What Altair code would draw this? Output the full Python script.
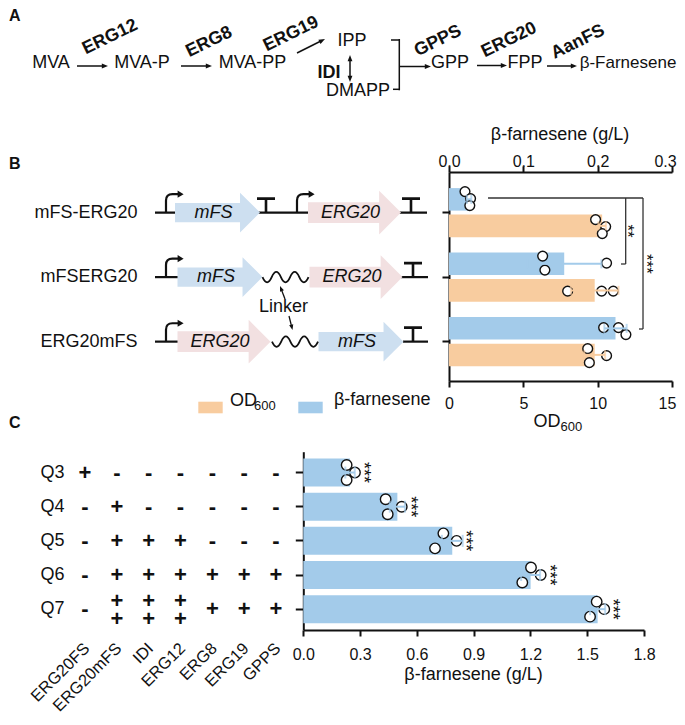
import math
import altair as alt
import pandas as pd

# ================= values =================
# Panel A (pathway)
A_SPECIES = ["MVA", "MVA-P", "MVA-PP", "IPP", "DMAPP", "GPP", "FPP", "β-Farnesene"]
A_ENZYMES = ["ERG12", "ERG8", "ERG19", "GPPS", "ERG20", "AanFS"]
A_ISOMERASE = "IDI"

# Panel B (fusion constructs)
B_CONSTRUCTS = ["mFS-ERG20", "mFSERG20", "ERG20mFS"]
B_FARN_MEAN = [0.027, 0.155, 0.224]
B_FARN_SD = [0.003, 0.050, 0.015]
B_FARN_REPS = [[0.0215, 0.029, 0.028], [0.126, 0.212, 0.129], [0.208, 0.228, 0.238]]
B_OD_MEAN = [10.3, 9.8, 9.8]
B_OD_SD = [0.25, 1.6, 0.7]
B_OD_REPS = [[9.86, 10.54, 10.31], [7.98, 10.27, 11.05], [9.33, 10.6, 9.44]]
B_STARS = ["**", "***"]

# Panel C (strains)
C_STRAINS = ["Q3", "Q4", "Q5", "Q6", "Q7"]
C_MEAN = [0.247, 0.497, 0.787, 1.201, 1.555]
C_SD = [0.025, 0.040, 0.055, 0.050, 0.040]
C_REPS = [[0.229, 0.273, 0.229], [0.435, 0.520, 0.446], [0.740, 0.810, 0.696],
          [1.203, 1.254, 1.157], [1.550, 1.590, 1.515]]
C_GENES = ["ERG20FS", "ERG20mFS", "IDI", "ERG12", "ERG8", "ERG19", "GPPS"]
C_COPIES = [  # 0 -> "-", 1 -> "+", 2 -> two stacked "+"
    [1, 0, 0, 0, 0, 0, 0],
    [0, 1, 0, 0, 0, 0, 0],
    [0, 1, 1, 1, 0, 0, 0],
    [0, 1, 1, 1, 1, 1, 1],
    [0, 2, 2, 2, 1, 1, 1],
]

# ================= layout (reference pixel coordinates) =================
A_SPECIES_XY = [(51, 63), (142, 63), (252.5, 63), (352, 41), (358, 91), (450, 63), (525, 63), (628, 63)]
A_ENZYME_XY = [(110, 37), (209, 42), (291, 34), (438, 41), (509, 40), (578, 42)]
A_ARROWS = [(77, 66, 108, 66), (181, 66, 212, 66), (297, 53, 325, 39), (399.3, 66.5, 431, 66.5),
            (477, 65.5, 507, 65.5), (547, 66, 577, 66), (350, 68, 350, 55), (350, 68, 350, 82)]
A_BRACKET = [(391, 40, 399.3, 40), (399.3, 39, 399.3, 90.3), (393, 89.3, 399.3, 89.3)]

B_BACKBONE = [("mFS-ERG20", 155, 427), ("mFSERG20", 155, 178), ("mFSERG20", 401, 428),
              ("ERG20mFS", 155, 178), ("ERG20mFS", 403, 428)]
B_GENES = [("mFS-ERG20", "mFS", 217.5), ("mFS-ERG20", "ERG20", 354.5), ("mFSERG20", "mFS", 220),
           ("mFSERG20", "ERG20", 356), ("ERG20mFS", "ERG20", 224), ("ERG20mFS", "mFS", 361)]
GENE_LEN = {"mFS": 85, "ERG20": 93}
B_PROMOTERS = [("mFS-ERG20", 166), ("mFS-ERG20", 297), ("mFSERG20", 166), ("ERG20mFS", 166)]
B_TERMINATORS = [("mFS-ERG20", 266), ("mFS-ERG20", 411), ("mFSERG20", 413), ("ERG20mFS", 413)]
B_LINKERS = [("mFSERG20", 285.5), ("ERG20mFS", 295)]
B_FARN_SLOTS = [["f1", "f2", "f3"], ["f1", "f2", "f3"], ["f2", "f2", "f3"]]
B_OD_SLOTS = [["o1", "o2", "o3"], ["o2", "o2", "o2"], ["o1", "o2", "o3"]]
B_BRACKETS = [(0.0525, 198, 0.261, 198), (0.2377, 198, 0.2377, 264), (0.2314, 264, 0.2377, 264),
              (0.261, 198, 0.261, 329), (0.2556, 329, 0.261, 329)]
B_STARS_XY = [(627, 231), (646, 264)]
C_SLOTS = ["a", "b", "c"]

W, H = 669, 709
INK = "#111111"
FONT = "Liberation Sans"
BLUE = "#a3cbea"
ORANGE = "#f8cc9f"
MFS_FILL = "#cddff0"
ERG_FILL = "#f2e0e1"

CX = alt.Scale(domain=[0, 685], range=[-8, 677], nice=False, zero=False)
CY = alt.Scale(domain=[0, 725], range=[-8, 717], nice=False, zero=False)
B_Y = alt.Scale(type="band", domain=B_CONSTRUCTS, range=[164, 373], paddingInner=0.24,
                paddingOuter=0.24, align=0.52)
B_OFF_BAR = alt.Scale(type="band", domain=["farn", "od"], paddingInner=0.151, paddingOuter=0)
B_OFF_PT = alt.Scale(type="point", domain=["f1", "f2", "f3", "gap", "o1", "o2", "o3"], padding=0.5)
B_XF = alt.Scale(domain=[0, 0.3], range=[441, 664], nice=False, zero=True)
B_XO = alt.Scale(domain=[0, 15], range=[441, 664], nice=False, zero=True)
C_X = alt.Scale(domain=[0, 1.8], range=[295.3, 636], nice=False, zero=True)
C_Y = alt.Scale(type="band", domain=C_STRAINS, range=[443.7, 622], paddingInner=0.18, paddingOuter=0.2)
C_OFF_PT = alt.Scale(type="point", domain=C_SLOTS, padding=0.867)
C_COL = alt.Scale(type="point", domain=C_GENES, range=[77, 268], padding=0)

GENE_PATH = "M-1,-0.224 L0.53,-0.224 L0.53,-0.47 L1,0 L0.53,0.47 L0.53,0.224 L-1,0.224 Z"
PROM_PATH = "M0,0 L0,-0.6 Q0,-0.92 0.32,-0.92 L0.6,-0.92"
PROM_HEAD = "M0.58,-1.1 L0.88,-0.92 L0.58,-0.74 Z"
TERM_PATH = "M0,0 L0,-0.7 M-0.45,-0.7 L0.45,-0.7"
WAVE_PATH = ("M-1,0 Q-0.8,0.45 -0.6,0 Q-0.4,-0.45 -0.2,0 Q0,0.45 0.2,0 "
             "Q0.4,-0.45 0.6,0 Q0.8,0.45 1,0")
HEAD_PATH = "M0,-1 L0.6,0.55 L-0.6,0.55 Z"


def X(field="x", scale=CX):
    return alt.X(f"{field}:Q", scale=scale, axis=None)


def Y(field="y"):
    return alt.Y(f"{field}:Q", scale=CY, axis=None)


YB = alt.Y("construct:N", scale=B_Y, axis=None)
YC = alt.Y("strain:N", scale=C_Y, axis=None)


def texts(rows, size=18, **kw):
    df = pd.DataFrame(rows, columns=["t", "x", "y"])
    props = dict(font=FONT, fontSize=size, color=INK, align="center", baseline="middle")
    props.update(kw)
    return alt.Chart(df).mark_text(**props).encode(x=X(), y=Y(), text="t:N")


def segs(rows, width=1.5, color=INK, xscale=CX):
    df = pd.DataFrame(rows, columns=["x", "y", "x2", "y2"])
    return alt.Chart(df).mark_rule(strokeWidth=width, color=color).encode(
        x=X("x", xscale), x2="x2:Q", y=Y(), y2="y2:Q")


def arrows(rows, width=1.5, head=64):
    r = math.sqrt(head) / 2
    out = []
    for x1, y1, x2, y2 in rows:
        d = math.hypot(x2 - x1, y2 - y1)
        ux, uy = (x2 - x1) / d, (y2 - y1) / d
        hx, hy = x2 - r * ux, y2 - r * uy
        out.append(dict(x=x1, y=y1, x2=hx, y2=hy, hx=hx, hy=hy,
                        ang=math.degrees(math.atan2(ux, -uy)) % 360))
    df = pd.DataFrame(out)
    line = alt.Chart(df).mark_rule(strokeWidth=width, color=INK).encode(
        x=X(), x2="x2:Q", y=Y(), y2="y2:Q")
    tip = alt.Chart(df).mark_point(shape=HEAD_PATH, filled=True, color=INK, size=head,
                                   opacity=1, strokeWidth=0).encode(
        x=X("hx"), y=Y("hy"), angle=alt.Angle("ang:Q", scale=None))
    return [line, tip]


layers = []

# ---------- panel letters ----------
layers.append(texts([("A", 9, 16), ("B", 9, 164), ("C", 9, 423)], size=16,
                    fontWeight="bold", align="left"))

# ---------- panel A ----------
layers.append(texts([(t, x, y) for t, (x, y) in zip(A_SPECIES[:-1], A_SPECIES_XY[:-1])]))
layers.append(texts([(A_SPECIES[-1],) + A_SPECIES_XY[-1]], size=17))
layers.append(texts([(t, x, y) for t, (x, y) in zip(A_ENZYMES, A_ENZYME_XY)],
                    fontWeight="bold", angle=334))
layers.append(texts([(A_ISOMERASE, 329, 73)], fontWeight="bold"))
layers.append(segs(A_BRACKET, width=1.5))
layers += arrows(A_ARROWS)

# ---------- panel B: constructs ----------
layers.append(alt.Chart(pd.DataFrame({"construct": B_CONSTRUCTS, "x": 137.5})).mark_text(
    font=FONT, fontSize=18, color=INK, align="right", baseline="middle").encode(
    x=X(), y=YB, text="construct:N"))
layers.append(alt.Chart(pd.DataFrame(B_BACKBONE, columns=["construct", "x", "x2"])).mark_rule(
    strokeWidth=2.2, color=INK).encode(x=X(), x2="x2:Q", y=YB))
genes_df = pd.DataFrame(B_GENES, columns=["construct", "gene", "x"])
genes_df["sz"] = [GENE_LEN[g] ** 2 for g in genes_df["gene"]]
genes_df["lx"] = genes_df["x"] - 4
layers.append(alt.Chart(genes_df).mark_point(shape=GENE_PATH, filled=True, opacity=1,
                                             strokeWidth=0).encode(
    x=X(), y=YB, size=alt.Size("sz:Q", scale=None),
    color=alt.Color("gene:N", scale=alt.Scale(domain=["mFS", "ERG20"], range=[MFS_FILL, ERG_FILL]),
                    legend=None)))
layers.append(alt.Chart(genes_df).mark_text(font=FONT, fontSize=18, fontStyle="italic", color=INK,
                                            baseline="middle").encode(
    x=X("lx"), y=YB, text="gene:N"))
prom_df = pd.DataFrame(B_PROMOTERS, columns=["construct", "x"])
layers.append(alt.Chart(prom_df).mark_point(shape=PROM_PATH, filled=False, color=INK, opacity=1,
                                            strokeWidth=2.2, size=1600).encode(x=X(), y=YB))
layers.append(alt.Chart(prom_df).mark_point(shape=PROM_HEAD, filled=True, color=INK, opacity=1,
                                            strokeWidth=0, size=1600).encode(x=X(), y=YB))
layers.append(alt.Chart(pd.DataFrame(B_TERMINATORS, columns=["construct", "x"])).mark_point(
    shape=TERM_PATH, filled=False, color=INK, opacity=1, strokeWidth=2.6, size=1600).encode(
    x=X(), y=YB))
layers.append(alt.Chart(pd.DataFrame(B_LINKERS, columns=["construct", "x"])).mark_point(
    shape=WAVE_PATH, filled=False, color=INK, opacity=1, strokeWidth=1.8, size=2116).encode(
    x=X(), y=YB))
layers.append(texts([("Linker", 283.5, 307)]))
layers += arrows([(285, 299, 280, 286), (289, 316, 292.5, 330)], width=1.3, head=49)

# legend of panel B
layers.append(alt.Chart(pd.DataFrame({"x": [198.3, 298.3], "x2": [222.7, 322.7], "y": [401.7, 401.7],
                                      "y2": [413.3, 413.3], "s": ["OD600", "β-farnesene"]})).mark_rect().encode(
    x=X(), x2="x2:Q", y=Y(), y2="y2:Q",
    color=alt.Color("s:N", scale=alt.Scale(domain=["OD600", "β-farnesene"], range=[ORANGE, BLUE]),
                    legend=None)))
layers.append(texts([("OD", 230, 400.5), ("β-farnesene", 334, 399.5)], align="left"))
layers.append(texts([("600", 254, 405.5)], size=13, align="left"))

# ---------- panel B: bars ----------
TOP_AXIS = alt.Axis(orient="top", offset=-164, values=[0, 0.1, 0.2, 0.3], format=".1f", tickSize=6,
                    labelPadding=0, labelBaseline="alphabetic", title=None,
                    labelOffset={"condition": {"test": "datum.value >= 0.29", "value": -7}, "value": 0})
BOT_AXIS = alt.Axis(orient="bottom", offset=373 - H, values=[0, 5, 10, 15], format="d", tickSize=6,
                    labelPadding=8, title=None,
                    labelOffset={"condition": {"test": "datum.value >= 14", "value": -5}, "value": 0})
LEFT_B = alt.Axis(orient="left", offset=-441, labels=False, tickSize=7, title=None)


def b_series(key, mean, sd, reps, slots, xscale, color, xaxis, yaxis):
    bars = pd.DataFrame({"construct": B_CONSTRUCTS, "series": key, "mean": mean, "sd": sd})
    bars["lo"] = bars["mean"] - bars["sd"]
    bars["hi"] = bars["mean"] + bars["sd"]
    pts = pd.DataFrame([{"construct": c, "slot": s, "value": v}
                        for c, vs, ss in zip(B_CONSTRUCTS, reps, slots) for v, s in zip(vs, ss)])
    caps = pd.concat([bars.assign(cap=bars["lo"]), bars.assign(cap=bars["hi"])])
    yoff = alt.YOffset("series:N", scale=B_OFF_BAR)
    bar = alt.Chart(bars).mark_bar(color=color).encode(
        x=alt.X("mean:Q", scale=xscale, axis=xaxis),
        y=alt.Y("construct:N", scale=B_Y, axis=yaxis), yOffset=yoff)
    dots = alt.Chart(pts).mark_circle(fill="white", stroke=INK, strokeWidth=1.4, size=95,
                                      opacity=1).encode(
        x=X("value", xscale), y=YB, yOffset=alt.YOffset("slot:N", scale=B_OFF_PT))
    err = alt.Chart(bars).mark_rule(color=color, strokeWidth=2).encode(
        x=X("lo", xscale), x2="hi:Q", y=YB, yOffset=yoff)
    cap = alt.Chart(caps).mark_tick(color=color, thickness=2, size=9).encode(
        x=X("cap", xscale), y=YB, yOffset=yoff)
    return [bar, dots, err, cap]


od_layers = b_series("od", B_OD_MEAN, B_OD_SD, B_OD_REPS, B_OD_SLOTS, B_XO, ORANGE, BOT_AXIS, None)
farn_layers = b_series("farn", B_FARN_MEAN, B_FARN_SD, B_FARN_REPS, B_FARN_SLOTS, B_XF, BLUE,
                       TOP_AXIS, LEFT_B)
layers += [od_layers[0], farn_layers[0], od_layers[1], farn_layers[1],
           od_layers[2], od_layers[3], farn_layers[2], farn_layers[3]]

layers.append(segs(B_BRACKETS, width=1.3, color="#333333", xscale=B_XF))
layers.append(texts([(s, x, y) for s, (x, y) in zip(B_STARS, B_STARS_XY)], size=17, angle=90))

# axis titles of B
layers.append(texts([("β-farnesene (g/L)", 560, 135)]))
layers.append(texts([("OD", 560.5, 421.5)], align="right"))
layers.append(texts([("600", 560.5, 427)], size=13, align="left"))

# ---------- panel C: table ----------
layers.append(alt.Chart(pd.DataFrame({"strain": C_STRAINS, "x": 52.5})).mark_text(
    font=FONT, fontSize=18, color=INK, baseline="middle").encode(x=X(), y=YC, text="strain:N"))
sign_rows = []
for strain, row in zip(C_STRAINS, C_COPIES):
    for gene, n in zip(C_GENES, row):
        sign_rows.append((strain, gene, "\n".join(["+"] * n) if n else "-", max(n, 1)))
signs = pd.DataFrame(sign_rows, columns=["strain", "gene", "sign", "lines"])
for lines, dy in [(1, 0), (2, -8)]:
    layers.append(alt.Chart(signs[signs["lines"] == lines]).mark_text(
        font=FONT, fontSize=22, fontWeight="bold", color=INK, baseline="middle", lineBreak="\n",
        lineHeight=18, dy=dy).encode(
        x=alt.X("gene:N", scale=C_COL, axis=None), y=YC, text="sign:N"))
layers.append(alt.Chart(pd.DataFrame({"gene": C_GENES, "y": 646})).mark_text(
    font=FONT, fontSize=16.5, color=INK, align="right", baseline="middle", angle=315, dx=1.5,
    dy=1.5).encode(
    x=alt.X("gene:N", scale=C_COL, axis=None), y=Y(), text="gene:N"))

# ---------- panel C: bars ----------
C_BOT = alt.Axis(orient="bottom", offset=622 - H, values=[0, 0.3, 0.6, 0.9, 1.2, 1.5, 1.8],
                 format=".1f", tickSize=6, labelPadding=10, title=None)
C_LEFT = alt.Axis(orient="left", offset=-295.3, labels=False, tickSize=8, title=None)
cdf = pd.DataFrame({"strain": C_STRAINS, "mean": C_MEAN, "sd": C_SD})
cdf["lo"] = cdf["mean"] - cdf["sd"]
cdf["hi"] = cdf["mean"] + cdf["sd"]
cdf["top"] = [max(r) for r in C_REPS]
cpts = pd.DataFrame([{"strain": s, "slot": sl, "value": v}
                     for s, vs in zip(C_STRAINS, C_REPS) for v, sl in zip(vs, C_SLOTS)])
ccaps = pd.concat([cdf.assign(cap=cdf["lo"]), cdf.assign(cap=cdf["hi"])])
layers.append(alt.Chart(cdf).mark_bar(color=BLUE).encode(
    x=alt.X("mean:Q", scale=C_X, axis=C_BOT), y=alt.Y("strain:N", scale=C_Y, axis=C_LEFT)))
layers.append(alt.Chart(cpts).mark_circle(fill="white", stroke=INK, strokeWidth=1.4, size=110,
                                          opacity=1).encode(
    x=X("value", C_X), y=YC, yOffset=alt.YOffset("slot:N", scale=C_OFF_PT)))
layers.append(alt.Chart(cdf).mark_rule(color=BLUE, strokeWidth=2).encode(
    x=X("lo", C_X), x2="hi:Q", y=YC))
layers.append(alt.Chart(ccaps).mark_tick(color=BLUE, thickness=2, size=12).encode(
    x=X("cap", C_X), y=YC))
layers.append(alt.Chart(cdf).mark_text(text="***", font=FONT, fontSize=18, color=INK, angle=90,
                                       baseline="middle", dy=-8).encode(x=X("top", C_X), y=YC))
layers.append(texts([("β-farnesene (g/L)", 473.5, 675)]))

chart = alt.layer(*layers).resolve_scale(
    x="independent", y="independent", yOffset="independent", color="independent",
    size="independent", angle="independent"
).resolve_axis(x="independent", y="independent").properties(
    width=W, height=H, autosize="none", padding=0, background="white"
).configure_view(stroke=None).configure_axis(
    domainColor=INK, domainWidth=2, tickColor=INK, tickWidth=2, labelColor=INK, labelFont=FONT,
    labelFontSize=16, grid=False, labelFlush=False, labelOverlap=False
)

chart.save("out.html", embed_options={"renderer": "svg", "actions": False})
